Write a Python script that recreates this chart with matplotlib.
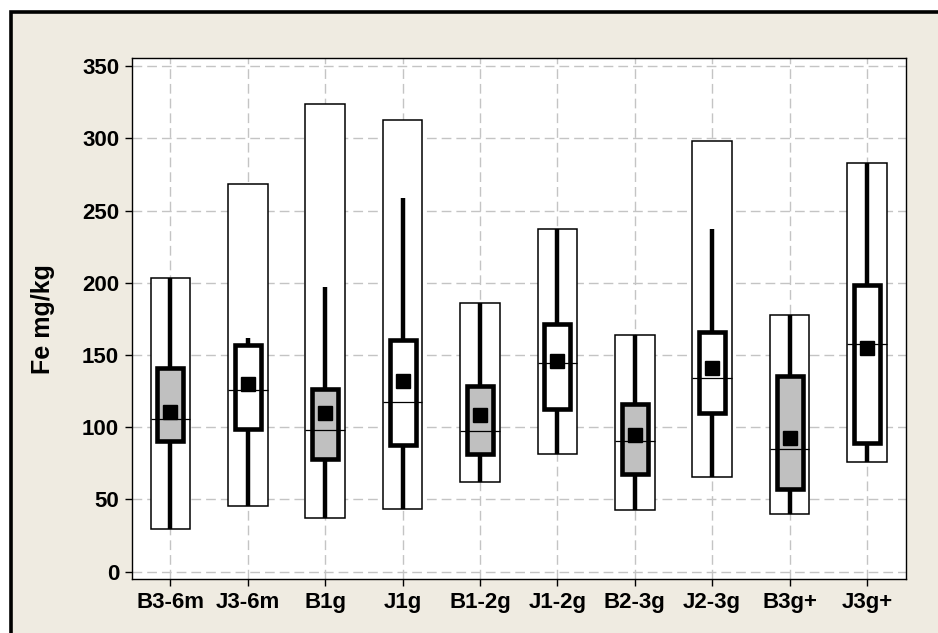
import matplotlib
matplotlib.use("Agg")
import matplotlib.pyplot as plt
from matplotlib.patches import Rectangle

categories = ["B3-6m", "J3-6m", "B1g", "J1g", "B1-2g", "J1-2g", "B2-3g", "J2-3g", "B3g+", "J3g+"]
min_vals = [29.6, 45.3, 37.4, 43.2, 62.1, 81.5, 42.9, 65.6, 39.7, 75.8]
max_vals = [203.4, 268.7, 323.8, 312.6, 186.2, 237.1, 164.1, 298.0, 177.5, 283.3]
whisker_low = [29.6, 45.3, 37.4, 43.2, 62.1, 81.5, 42.9, 65.6, 39.7, 75.8]
whisker_high = [203.4, 162.0, 197.0, 258.8, 186.2, 237.1, 164.1, 237.3, 177.5, 283.3]
q1_vals = [90.5, 98.6, 78.0, 87.5, 81.7, 112.4, 67.4, 109.9, 57.0, 88.9]
q3_vals = [141.0, 157.0, 126.3, 160.2, 128.6, 171.3, 116.3, 166.0, 135.3, 198.5]
medians = [105.5, 125.6, 98.3, 117.7, 97.2, 144.7, 90.3, 134.3, 85.2, 157.4]
means = [110.4, 129.8, 109.7, 131.8, 108.3, 145.9, 94.9, 141.3, 92.8, 154.9]
y_ticks = [0, 50, 100, 150, 200, 250, 300, 350]

beige = "#EFEBE1"
gray_fill = "#C0C0C0"

fig = plt.figure(figsize=(9.38, 6.33), dpi=100, facecolor="white")
frame = Rectangle((10.5 / 938, -0.2), 1.5, 1.2 - 12 / 633,
                  transform=fig.transFigure, facecolor=beige, edgecolor="black",
                  linewidth=2.6, zorder=-10)
fig.patches.append(frame)

ax = fig.add_axes([131.7 / 938, 1 - 579.3 / 633, (905.7 - 131.7) / 938, (579.3 - 58.3) / 633])
ax.set_facecolor("white")

x = list(range(1, len(categories) + 1))

ax.set_axisbelow(True)
ax.grid(True, color="#C4C4C4", linewidth=1.0, linestyle=(0, (7, 3.6)))

# outer range rectangles
ax.bar(x, [mx - mn for mx, mn in zip(max_vals, min_vals)], bottom=min_vals, width=0.51,
       facecolor="white", edgecolor="black", linewidth=1.1, zorder=2)
# whiskers
ax.vlines(x, whisker_low, whisker_high, colors="black", linewidth=3.2, zorder=3)
# boxes
fills = [gray_fill if c.startswith("B") else "white" for c in categories]
ax.bar(x, [q3 - q1 for q3, q1 in zip(q3_vals, q1_vals)], bottom=q1_vals, width=0.336,
       color=fills, edgecolor="black", linewidth=3.3, zorder=4)
# medians
ax.hlines(medians, [xi - 0.255 for xi in x], [xi + 0.255 for xi in x],
          colors="black", linewidth=0.9, zorder=5)
# means
ax.plot(x, means, linestyle="none", marker="s", markersize=10, color="black", zorder=6)

ax.set_xlim(0.5, 10.5)
ax.set_ylim(-5.3, 355.5)
ax.set_yticks(y_ticks)
ax.set_xticks(x)
ax.set_xticklabels(categories)

for s in ax.spines.values():
    s.set_linewidth(1.0)
    s.set_color("black")

ax.tick_params(axis="both", direction="out", length=5, width=1.0, color="black", pad=4)
for lab in ax.get_xticklabels() + ax.get_yticklabels():
    lab.set_fontfamily("Liberation Sans")
    lab.set_fontweight("bold")
    lab.set_fontsize(16)

ax.set_ylabel("Fe mg/kg", fontfamily="Liberation Sans", fontweight="bold", fontsize=18)
ax.yaxis.set_label_coords((55 - 131.7) / (905.7 - 131.7), 0.5)

fig.savefig("out.png", dpi=100, facecolor=fig.get_facecolor())
